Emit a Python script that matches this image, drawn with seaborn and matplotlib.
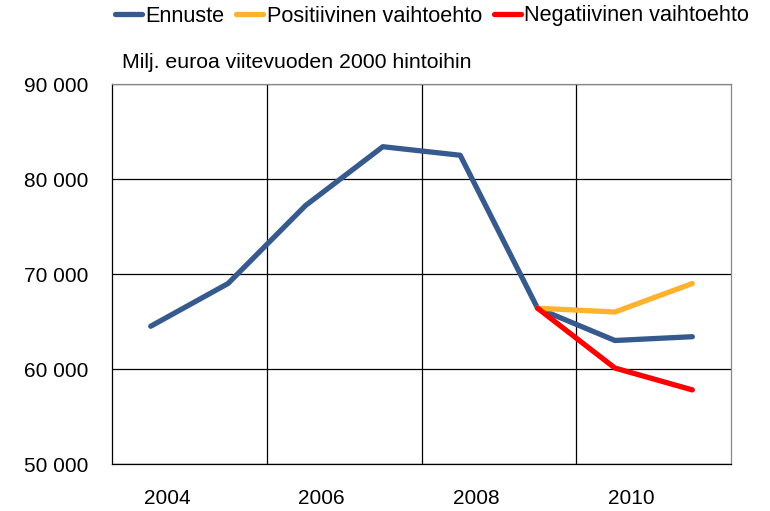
import numpy as np
import pandas as pd
import matplotlib.pyplot as plt
from matplotlib import ticker as mtick
import seaborn as sns

# data
years = [2004, 2005, 2006, 2007, 2008, 2009, 2010, 2011]
ennuste = [64500, 69000, 77200, 83400, 82500, 66400, 63000, 63400]
pos_years = [2009, 2010, 2011]
positiivinen = [66400, 66000, 69000]
neg_years = [2009, 2010, 2011]
negatiivinen = [66400, 60100, 57800]

series_names = ['Ennuste', 'Positiivinen vaihtoehto', 'Negatiivinen vaihtoehto']
series_colors = ['#375A8E', '#FFB22C', '#FF0000']
tick_years = [2004, 2006, 2008, 2010]

df = pd.concat([
    pd.DataFrame({'vuosi': years, 'arvo': ennuste, 'sarja': series_names[0]}),
    pd.DataFrame({'vuosi': pos_years, 'arvo': positiivinen, 'sarja': series_names[1]}),
    pd.DataFrame({'vuosi': neg_years, 'arvo': negatiivinen, 'sarja': series_names[2]}),
])

sns.set_style('white')
plt.rcParams['font.family'] = ['Liberation Sans', 'DejaVu Sans']
plt.rcParams['text.color'] = 'black'
plt.rcParams['xtick.color'] = 'black'
plt.rcParams['ytick.color'] = 'black'

fig = plt.figure(figsize=(7.7, 5.11), dpi=100)
ax = fig.add_axes([112/770, 1-464/511, (731-112)/770, (464-84)/511])

sns.lineplot(data=df, x='vuosi', y='arvo', hue='sarja', hue_order=series_names,
             palette=series_colors, linewidth=3.8, ax=ax, legend=True,
             zorder=3)
for ln in ax.lines:
    ln.set_solid_capstyle('round')
    ln.set_solid_joinstyle('round')

ax.set_xlim(2003.5, 2011.5)
ax.set_ylim(50000, 90000)
ax.set_xlabel('')
ax.set_ylabel('')

# y axis
ax.yaxis.set_major_locator(mtick.MultipleLocator(10000))
ax.yaxis.set_major_formatter(mtick.FuncFormatter(
    lambda v, p: '{:,.0f}'.format(v).replace(',', ' ')))
ax.tick_params(axis='y', length=0, labelsize=15, pad=17)
ax.grid(axis='y', color='black', linewidth=0.9)

# x axis: gridlines between category pairs, minor ticks in between
ax.set_xticks([2005.5, 2007.5, 2009.5])
ax.set_xticklabels([])
ax.set_xticks([2004.5, 2006.5, 2008.5, 2010.5], minor=True)
ax.tick_params(axis='x', which='major', length=0)
ax.tick_params(axis='x', which='minor', direction='in', length=5,
               color='black', width=0.9)
ax.grid(axis='x', which='major', color='black', linewidth=0.9)
for yr in tick_years:
    ax.text(yr + 0.21, -0.092, str(yr), transform=ax.get_xaxis_transform(),
            ha='center', va='center', fontsize=15)

for sp in ax.spines.values():
    sp.set_visible(True)
    sp.set_color('black')
    sp.set_linewidth(0.9)
ax.spines['right'].set_color('#888888')
ax.spines['top'].set_color('#888888')

# legend across the top
handles, labels = ax.get_legend_handles_labels()
ax.get_legend().remove()
fig.legend(handles, labels, loc='center left', bbox_to_anchor=(115/770, 1-16/511),
           ncol=3, frameon=False, fontsize=15.6, handlelength=1.25,
           handletextpad=0.15, columnspacing=0.55, borderaxespad=0,
           borderpad=0)

fig.text(122/770, 1-62/511, 'Milj. euroa viitevuoden 2000 hintoihin',
         fontsize=15.3, va='center', ha='left')

fig.savefig('out.png', dpi=100)
